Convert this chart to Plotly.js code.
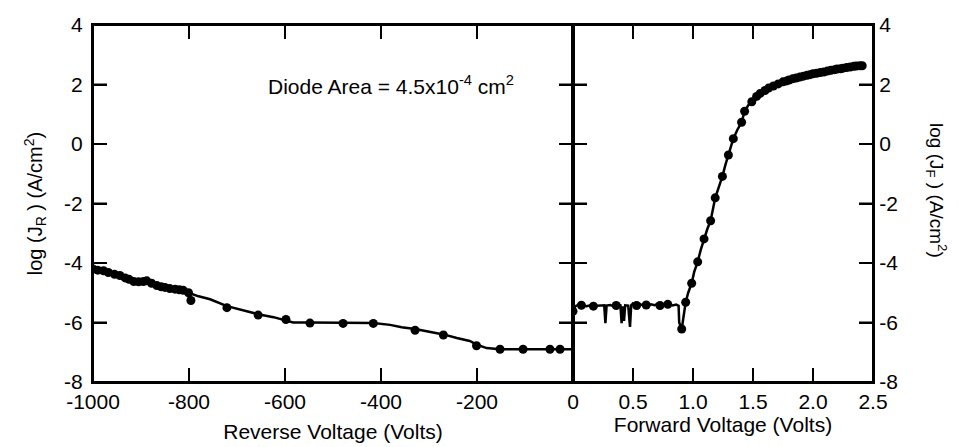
<!DOCTYPE html>
<html>
<head>
<meta charset="utf-8">
<script src="https://cdn.plot.ly/plotly-3.0.1.min.js"></script>
<style>
html,body{margin:0;padding:0;background:#fff;}
#wrap{position:relative;width:959px;height:447px;}
#left,#right{position:absolute;left:0;top:0;width:959px;height:447px;}
</style>
</head>
<body>
<div id="wrap"><div id="left"></div><div id="right"></div></div>
<script>
// Reverse bias: measured curve (line) and plotted points (markers)
const revLineV = [-1000,-985,-965,-944,-933,-919,-899,-888,-867,-850,-829,-812,-801,-780,-756,-721,-690,-656,-624,-598,-583,-548,-479,-416,-381,-357,-329,-301,-270,-242,-215,-201,-180,-152,-104,-48,0];
const revLineJ = [-4.20,-4.26,-4.33,-4.42,-4.50,-4.62,-4.63,-4.60,-4.76,-4.82,-4.88,-4.90,-5.00,-5.12,-5.22,-5.45,-5.58,-5.72,-5.82,-5.92,-6.00,-6.00,-6.02,-6.02,-6.08,-6.16,-6.22,-6.30,-6.40,-6.52,-6.62,-6.74,-6.86,-6.90,-6.90,-6.90,-6.90];
const revMarkV = [-1000,-990,-978,-968,-955,-944,-933,-925,-915,-905,-895,-888,-878,-867,-858,-850,-840,-829,-820,-812,-801,-796,-721,-656,-598,-548,-479,-416,-329,-270,-201,-152,-104,-48,-27];
const revMarkJ = [-4.20,-4.24,-4.26,-4.32,-4.38,-4.42,-4.50,-4.55,-4.62,-4.63,-4.62,-4.60,-4.68,-4.76,-4.80,-4.82,-4.86,-4.88,-4.90,-4.92,-5.00,-5.26,-5.50,-5.75,-5.90,-6.02,-6.03,-6.03,-6.26,-6.42,-6.78,-6.90,-6.90,-6.90,-6.90];

// Forward bias: measured curve (line) and plotted points (markers)
const fwdLineV = [0,0.02,0.05,0.08,0.11,0.14,0.17,0.20,0.23,0.26,0.27,0.28,0.31,0.34,0.37,0.395,0.405,0.415,0.425,0.435,0.46,0.475,0.485,0.50,0.53,0.56,0.59,0.62,0.65,0.68,0.71,0.74,0.77,0.80,0.83,0.86,0.88,0.885,0.906,0.925,0.939,0.96,0.989,1.01,1.039,1.065,1.092,1.12,1.147,1.165,1.185,1.215,1.245,1.27,1.295,1.315,1.336,1.37,1.405,1.43,1.46,1.49,1.53,1.56,1.60,1.67,1.75,1.80,1.86,1.92,1.975,2.03,2.09,2.15,2.20,2.25,2.31,2.36,2.41];
const fwdLineJ = [-5.62,-5.45,-5.40,-5.43,-5.45,-5.43,-5.42,-5.44,-5.43,-5.42,-6.02,-5.43,-5.41,-5.45,-5.40,-5.42,-6.02,-5.46,-5.95,-5.42,-5.43,-6.15,-5.42,-5.36,-5.45,-5.39,-5.43,-5.45,-5.39,-5.42,-5.37,-5.44,-5.41,-5.37,-5.43,-5.40,-5.44,-6.00,-6.22,-5.75,-5.32,-5.00,-4.68,-4.30,-3.96,-3.55,-3.19,-2.85,-2.58,-2.20,-1.81,-1.45,-1.09,-0.70,-0.37,-0.10,0.18,0.48,0.73,1.10,1.30,1.42,1.60,1.70,1.80,1.95,2.09,2.15,2.22,2.28,2.33,2.38,2.42,2.48,2.52,2.55,2.59,2.62,2.63];
const fwdMarkV = [0,0.07,0.17,0.36,0.53,0.61,0.725,0.79,0.906,0.939,0.989,1.039,1.092,1.147,1.185,1.245,1.295,1.336,1.405,1.43,1.49,1.53,1.56,1.60,1.63,1.67,1.71,1.75,1.78,1.80,1.83,1.86,1.89,1.92,1.95,1.975,2.00,2.03,2.06,2.09,2.12,2.15,2.18,2.20,2.23,2.25,2.28,2.31,2.34,2.36,2.39,2.41];
const fwdMarkJ = [-5.62,-5.42,-5.45,-5.43,-5.43,-5.41,-5.43,-5.39,-6.22,-5.32,-4.68,-3.96,-3.19,-2.58,-1.81,-1.09,-0.37,0.18,0.73,1.10,1.42,1.60,1.70,1.80,1.88,1.95,2.02,2.09,2.12,2.15,2.19,2.22,2.25,2.28,2.31,2.33,2.36,2.38,2.40,2.42,2.45,2.48,2.50,2.52,2.53,2.55,2.57,2.59,2.61,2.62,2.63,2.63];

const yTicks = [-8,-6,-4,-2,0,2,4];
const yTickText = ["-8","-6","-4","-2","0","2","4"];
const revTicks = [-1000,-800,-600,-400,-200];
const revTickText = ["-1000","-800","-600","-400","-200"];
const fwdTicks = [0,0.5,1.0,1.5,2.0,2.5];
const fwdTickText = ["0","0.5","1.0","1.5","2.0","2.5"];

const FONT = "Liberation Sans, Arial, Helvetica, sans-serif";
const W = 959, H = 447, TOP = 25, BOT = 65, X0 = 93, XMID = 573, XR = 873;
const TL = 14, LW = 2;
const Y_RANGE = [-8, 4], REV_RANGE = [-1000, 0], FWD_RANGE = [0, 2.5];
const PLOT_H = H - TOP - BOT;

function ax(extra){
  return Object.assign({
    showline:true, linecolor:"#000", linewidth:LW, mirror:"ticks",
    ticks:"inside", ticklen:TL, tickwidth:LW, tickcolor:"#000",
    showgrid:false, zeroline:false,
    tickfont:{family:FONT, size:21, color:"#000"}
  }, extra);
}
// inward tick marks at the axes' tick values, as a line trace (length converted from pixels by the axis scale)
function tickTrace(xVals, yVals, xr, yr, plotW){
  const dy = TL * (yr[1] - yr[0]) / PLOT_H;
  const dx = TL * (xr[1] - xr[0]) / plotW;
  const x = [], y = [];
  xVals.forEach(v => {
    x.push(v, v, null, v, v, null); y.push(yr[0], yr[0] + dy, null, yr[1], yr[1] - dy, null);
  });
  yVals.forEach(v => {
    x.push(xr[0], xr[0] + dx, null, xr[1], xr[1] - dx, null); y.push(v, v, null, v, v, null);
  });
  return {x, y, mode:"lines", line:{color:"#000", width:LW}, hoverinfo:"skip", showlegend:false, cliponaxis:false};
}
const lineTrace = (x, y) => ({x, y, mode:"lines", line:{color:"#000", width:2.5}, showlegend:false, hoverinfo:"skip"});
const markTrace = (x, y) => ({x, y, mode:"markers", marker:{color:"#000", size:9, opacity:1, line:{width:0}}, opacity:1, showlegend:false});
const frame = {type:"rect", xref:"paper", yref:"paper", x0:0, x1:1, y0:0, y1:1, line:{color:"#000", width:LW}, layer:"above"};
const cfg = {displayModeBar:false, staticPlot:true};

// Left panel: reverse bias
Plotly.newPlot("left", [
  lineTrace(revLineV, revLineJ),
  markTrace(revMarkV, revMarkJ),
  tickTrace(revTicks, yTicks, REV_RANGE, Y_RANGE, XMID - X0)
], {
  width:W, height:H,
  margin:{l:X0, r:W-XMID, t:TOP, b:BOT},
  paper_bgcolor:"#fff", plot_bgcolor:"rgba(0,0,0,0)",
  font:{family:FONT, color:"#000"}, showlegend:false,
  xaxis: ax({range:REV_RANGE, tickmode:"array", tickvals:revTicks, ticktext:revTickText,
    title:{text:"Reverse Voltage (Volts)", font:{family:FONT, size:21, color:"#000"}, standoff:12}}),
  yaxis: ax({range:Y_RANGE, side:"left", tickmode:"array", tickvals:yTicks, ticktext:yTickText, ticklabelstandoff:4,
    title:{text:"log (J<sub>R</sub> ) (A/cm<sup>2</sup>)", font:{family:FONT, size:20, color:"#000"}, standoff:16}}),
  shapes:[frame],
  annotations:[
    {x:-380, y:2, xref:"x", yref:"y", text:"Diode Area = 4.5x10<sup>-4</sup> cm<sup>2</sup>",
     showarrow:false, font:{family:FONT, size:21, color:"#000"}, xanchor:"center", yanchor:"middle"}
  ]
}, cfg);

// Right panel: forward bias
Plotly.newPlot("right", [
  lineTrace(fwdLineV, fwdLineJ),
  markTrace(fwdMarkV, fwdMarkJ),
  tickTrace(fwdTicks, yTicks, FWD_RANGE, Y_RANGE, XR - XMID)
], {
  width:W, height:H,
  margin:{l:XMID, r:W-XR, t:TOP, b:BOT},
  paper_bgcolor:"rgba(0,0,0,0)", plot_bgcolor:"rgba(0,0,0,0)",
  font:{family:FONT, color:"#000"}, showlegend:false,
  xaxis: ax({range:FWD_RANGE, tickmode:"array", tickvals:fwdTicks, ticktext:fwdTickText,
    title:{text:"Forward Voltage (Volts)", font:{family:FONT, size:21, color:"#000"}, standoff:0}}),
  yaxis: ax({range:Y_RANGE, side:"right", tickmode:"array", tickvals:yTicks, ticktext:yTickText}),
  shapes:[frame],
  annotations:[
    {x:(937-XMID)/(XR-XMID), y:(H-BOT-190)/(H-TOP-BOT), xref:"paper", yref:"paper",
     text:"log (J<sub>F</sub> ) (A/cm<sup>2</sup>)", showarrow:false, textangle:90,
     font:{family:FONT, size:19, color:"#000"}, xanchor:"center", yanchor:"middle"}
  ]
}, cfg);
</script>
</body>
</html>
